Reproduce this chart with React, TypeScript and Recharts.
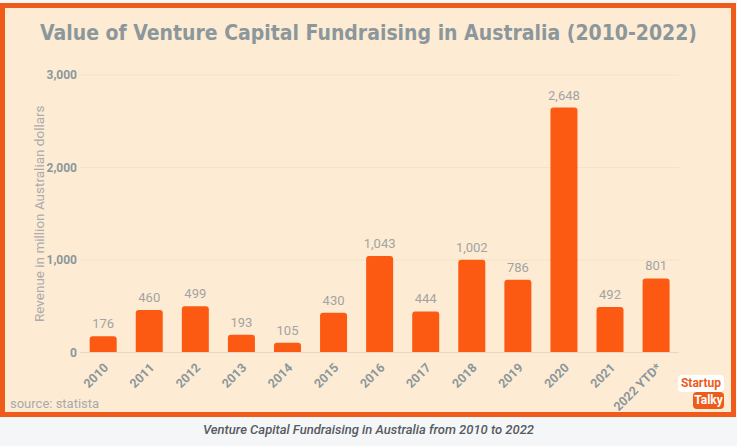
import React from 'react';
import { BarChart, Bar, XAxis, YAxis, CartesianGrid, LabelList } from 'recharts';

const years = ['2010', '2011', '2012', '2013', '2014', '2015', '2016', '2017', '2018', '2019', '2020', '2021', '2022 YTD*'];
const values = [176, 460, 499, 193, 105, 430, 1043, 444, 1002, 786, 2648, 492, 801];
const yTicks = [0, 1000, 2000, 3000];

const data = years.map((year, i) => ({ year, value: values[i] }));

const GRAY = '#8C979C';
const ORANGE = '#FC5A12';
const fmt = (v: number) => v.toLocaleString('en-US');

const XTick = (props: any) => {
  const { x, y, payload } = props;
  const tx = x + 6;
  const ty = y + 8;
  return (
    <text
      x={tx}
      y={ty}
      transform={`rotate(-45, ${tx}, ${ty})`}
      textAnchor="end"
      fill={GRAY}
      fontSize={12.5}
      fontWeight={700}
      fontFamily="Roboto, sans-serif"
    >
      {payload.value}
    </text>
  );
};

const YTick = (props: any) => {
  const { x, y, payload } = props;
  return (
    <text x={x + 5} y={y + 4} textAnchor="end" fill={GRAY} fontSize={12} fontWeight={700} fontFamily="Roboto, sans-serif">
      {fmt(payload.value)}
    </text>
  );
};

const App: React.FC = () => {
  return (
    <div style={{ position: 'absolute', left: 0, top: 0, width: 737, height: 446, background: '#F5F6F8', overflow: 'hidden' }}>
      <div
        style={{
          position: 'absolute',
          left: 0,
          top: 3,
          width: 736,
          height: 414,
          border: '5px solid #EE5B1A',
          boxSizing: 'border-box',
          background: '#FDECD3',
        }}
      />
      <svg style={{ position: 'absolute', left: 0, top: 0 }} width={737} height={60}>
        <text
          x={40}
          y={40}
          textLength={657}
          lengthAdjust="spacingAndGlyphs"
          fill={GRAY}
          fontSize={21}
          fontWeight={700}
          fontFamily="'Liberation Sans Narrow', 'DejaVu Sans Condensed', sans-serif"
        >
          Value of Venture Capital Fundraising in Australia  (2010-2022)
        </text>
      </svg>
      <div style={{ position: 'absolute', left: 0, top: 0 }}>
        <BarChart width={737} height={446} data={data} margin={{ top: 75, right: 58, bottom: 0, left: 0 }} barCategoryGap="21%">
          <CartesianGrid vertical={false} stroke="#F5E2C8" />
          <XAxis
            dataKey="year"
            interval={0}
            height={93.5}
            tickLine={false}
            axisLine={{ stroke: '#E6D8C6' }}
            tick={<XTick />}
          />
          <YAxis
            width={80}
            domain={[0, 3000]}
            ticks={yTicks}
            tickLine={false}
            axisLine={false}
            tick={<YTick />}
            label={{
              value: 'Revenue in million Australian dollars',
              angle: -90,
              position: 'insideLeft',
              offset: 0,
              dx: 39,
              fill: '#ABABAB',
              fontSize: 13.5,
              fontFamily: 'Roboto, sans-serif',
              style: { textAnchor: 'middle' },
            }}
          />
          <Bar dataKey="value" fill={ORANGE} radius={[3, 3, 0, 0]} isAnimationActive={false}>
            <LabelList
              dataKey="value"
              position="top"
              offset={8}
              formatter={(v: any) => fmt(Number(v))}
              fill="#A3A3A3"
              fontSize={13}
              fontFamily="Roboto, sans-serif"
            />
          </Bar>
        </BarChart>
      </div>
      <div style={{ position: 'absolute', left: 10, top: 396, fontSize: 13, color: '#A9A9A9', fontFamily: 'Roboto, sans-serif' }}>
        source: statista
      </div>
      <div
        style={{
          position: 'absolute',
          left: 678,
          top: 375,
          width: 46,
          height: 17,
          background: '#FFFFFF',
          borderRadius: 4,
          color: '#EE5B1A',
          fontSize: 12,
          fontWeight: 700,
          fontFamily: 'Roboto, sans-serif',
          lineHeight: '17px',
          textAlign: 'center',
        }}
      >
        Startup
      </div>
      <div
        style={{
          position: 'absolute',
          left: 693,
          top: 392,
          width: 31,
          height: 17,
          background: '#EE5B1A',
          borderRadius: 4,
          color: '#FFFFFF',
          fontSize: 12,
          fontWeight: 700,
          fontFamily: 'Roboto, sans-serif',
          lineHeight: '17px',
          textAlign: 'center',
        }}
      >
        Talky
      </div>
      <div
        style={{
          position: 'absolute',
          left: 0,
          top: 422,
          width: 737,
          textAlign: 'center',
          fontSize: 13,
          fontStyle: 'italic',
          fontWeight: 500,
          color: '#555B60',
          fontFamily: 'Roboto, sans-serif',
        }}
      >
        Venture Capital Fundraising in Australia from 2010 to 2022
      </div>
    </div>
  );
};

export default App;
